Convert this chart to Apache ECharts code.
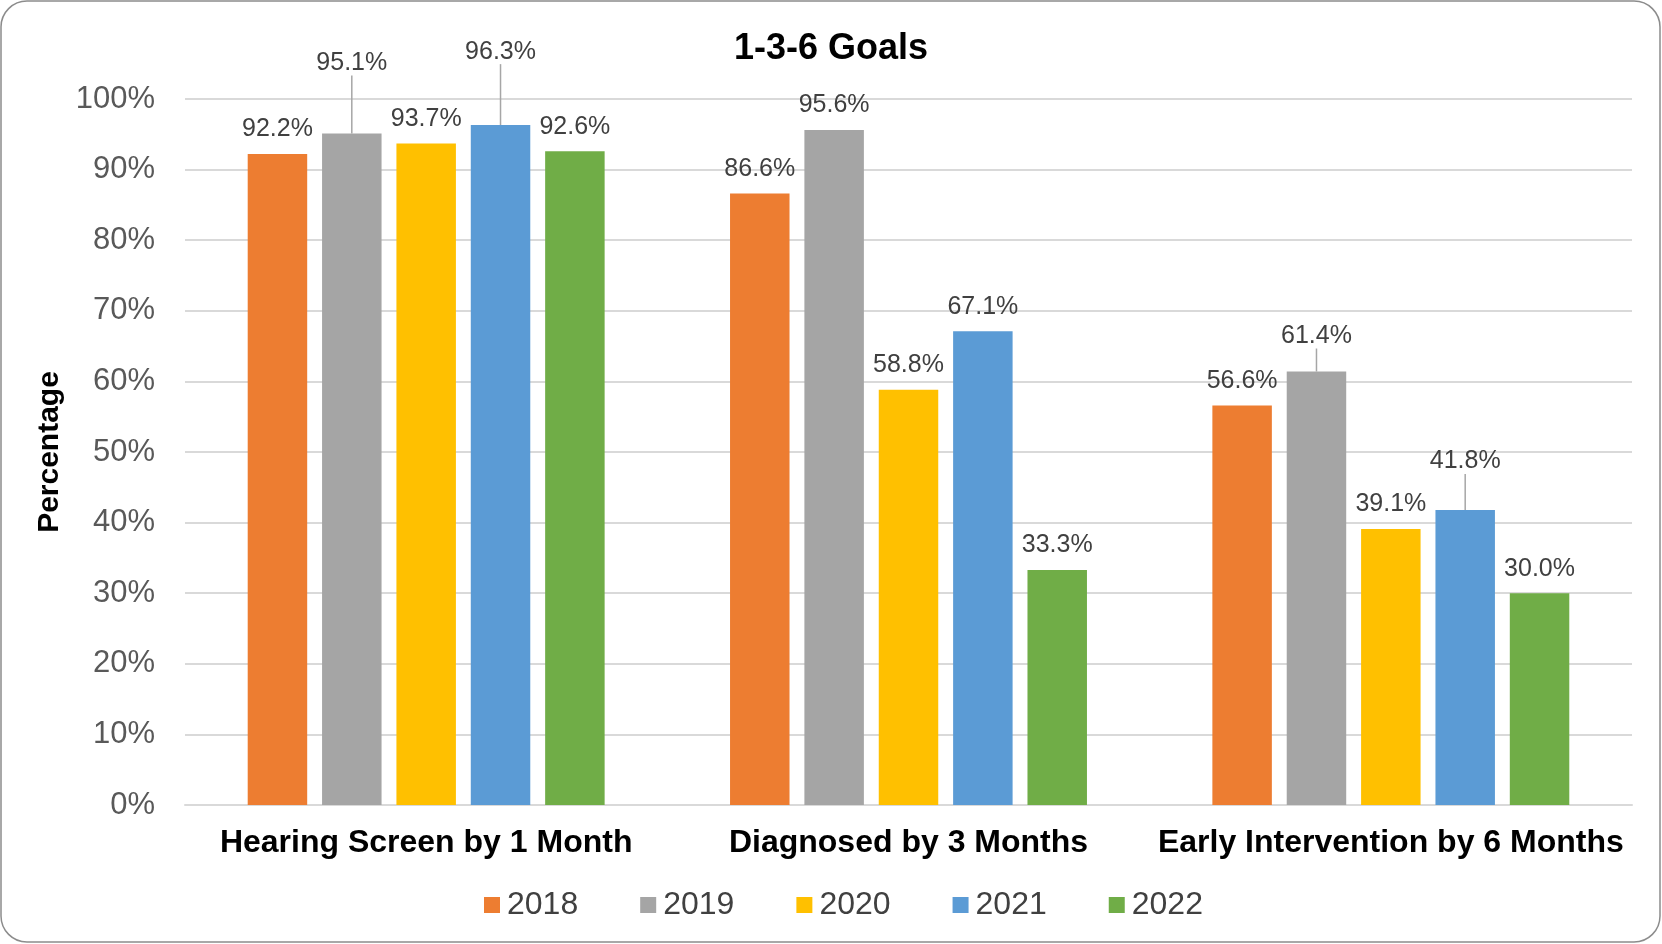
<!DOCTYPE html>
<html>
<head>
<meta charset="utf-8">
<script src="https://cdn.jsdelivr.net/npm/echarts@6/dist/echarts.min.js"></script>
<style>
html,body{margin:0;padding:0;background:#fff;}
#chart{width:1662px;height:944px;}
</style>
</head>
<body>
<div id="chart"></div>
<script>
// ---- data ----
var categories = ['Hearing Screen by 1 Month', 'Diagnosed by 3 Months', 'Early Intervention by 6 Months'];
var years = ['2018', '2019', '2020', '2021', '2022'];
var v2018 = [92.2, 86.6, 56.6];
var v2019 = [95.1, 95.6, 61.4];
var v2020 = [93.7, 58.8, 39.1];
var v2021 = [96.3, 67.1, 41.8];
var v2022 = [92.6, 33.3, 30.0];
var yTicks = [0, 10, 20, 30, 40, 50, 60, 70, 80, 90, 100];

// ---- styles ----
var colors = ['#ED7D31', '#A5A5A5', '#FFC000', '#5B9BD5', '#70AD47'];
// extra upward label shift (px) for labels placed with leader lines
var labelLift = [
  [0, 0, 0],
  [-46, 0, -11],
  [0, 0, 0],
  [-49, 0, -24],
  [0, 0, 0]
];
var FONT = 'Liberation Sans, Arial, sans-serif';
var values = [v2018, v2019, v2020, v2021, v2022];

var chart = echarts.init(document.getElementById('chart'), null, {renderer: 'canvas'});

var series = years.map(function (y, i) {
  return {
    name: y,
    type: 'bar',
    data: values[i].map(function (v, j) {
      return {value: v, labelLine: {show: labelLift[i][j] !== 0}};
    }),
    barGap: '25%',
    barCategoryGap: '26%',
    itemStyle: {color: colors[i]},
    label: {
      show: true,
      position: 'top',
      distance: 12,
      formatter: function (p) { return p.value.toFixed(1) + '%'; },
      color: '#404040',
      fontSize: 25,
      fontFamily: FONT
    },
    labelLine: {
      show: false,
      lineStyle: {color: '#a6a6a6', width: 1.5}
    },
    labelLayout: function (p) {
      var d = labelLift[i][p.dataIndex];
      return d ? {dy: d} : {};
    }
  };
});

chart.setOption({
  animation: false,
  backgroundColor: '#fff',
  title: {
    text: '1-3-6 Goals',
    left: 'center',
    top: 26,
    textStyle: {fontFamily: FONT, fontSize: 36, fontWeight: 'bold', color: '#000'}
  },
  legend: {
    data: years,
    bottom: 18,
    left: 479,
    icon: 'rect',
    itemWidth: 16,
    itemHeight: 16,
    itemGap: 62,
    textStyle: {fontFamily: FONT, fontSize: 32, color: '#404040', padding: [0, 0, 0, 2]}
  },
  grid: {left: 185, right: 30, top: 99, bottom: 139, containLabel: false},
  xAxis: {
    type: 'category',
    data: categories,
    axisLine: {show: true, lineStyle: {color: '#d9d9d9', width: 2}},
    axisTick: {show: false},
    axisLabel: {interval: 0, fontFamily: FONT, fontSize: 32, fontWeight: 'bold', color: '#000', margin: 22}
  },
  yAxis: {
    type: 'value',
    min: yTicks[0],
    max: yTicks[yTicks.length - 1],
    interval: yTicks[1] - yTicks[0],
    name: 'Percentage',
    nameLocation: 'middle',
    nameRotate: 90,
    nameGap: 118,
    nameTextStyle: {fontFamily: FONT, fontSize: 30, fontWeight: 'bold', color: '#000'},
    axisLine: {show: false},
    axisTick: {show: false},
    axisLabel: {fontFamily: FONT, fontSize: 31, color: '#595959', margin: 30, formatter: '{value}%'},
    splitLine: {lineStyle: {color: '#d9d9d9', width: 2}}
  },
  graphic: [{
    type: 'rect',
    shape: {x: 1, y: 1, width: 1659, height: 941, r: 26},
    style: {fill: 'none', stroke: '#8c8c8c', lineWidth: 1.5},
    silent: true,
    z: 100
  }],
  series: series
});
</script>
</body>
</html>
